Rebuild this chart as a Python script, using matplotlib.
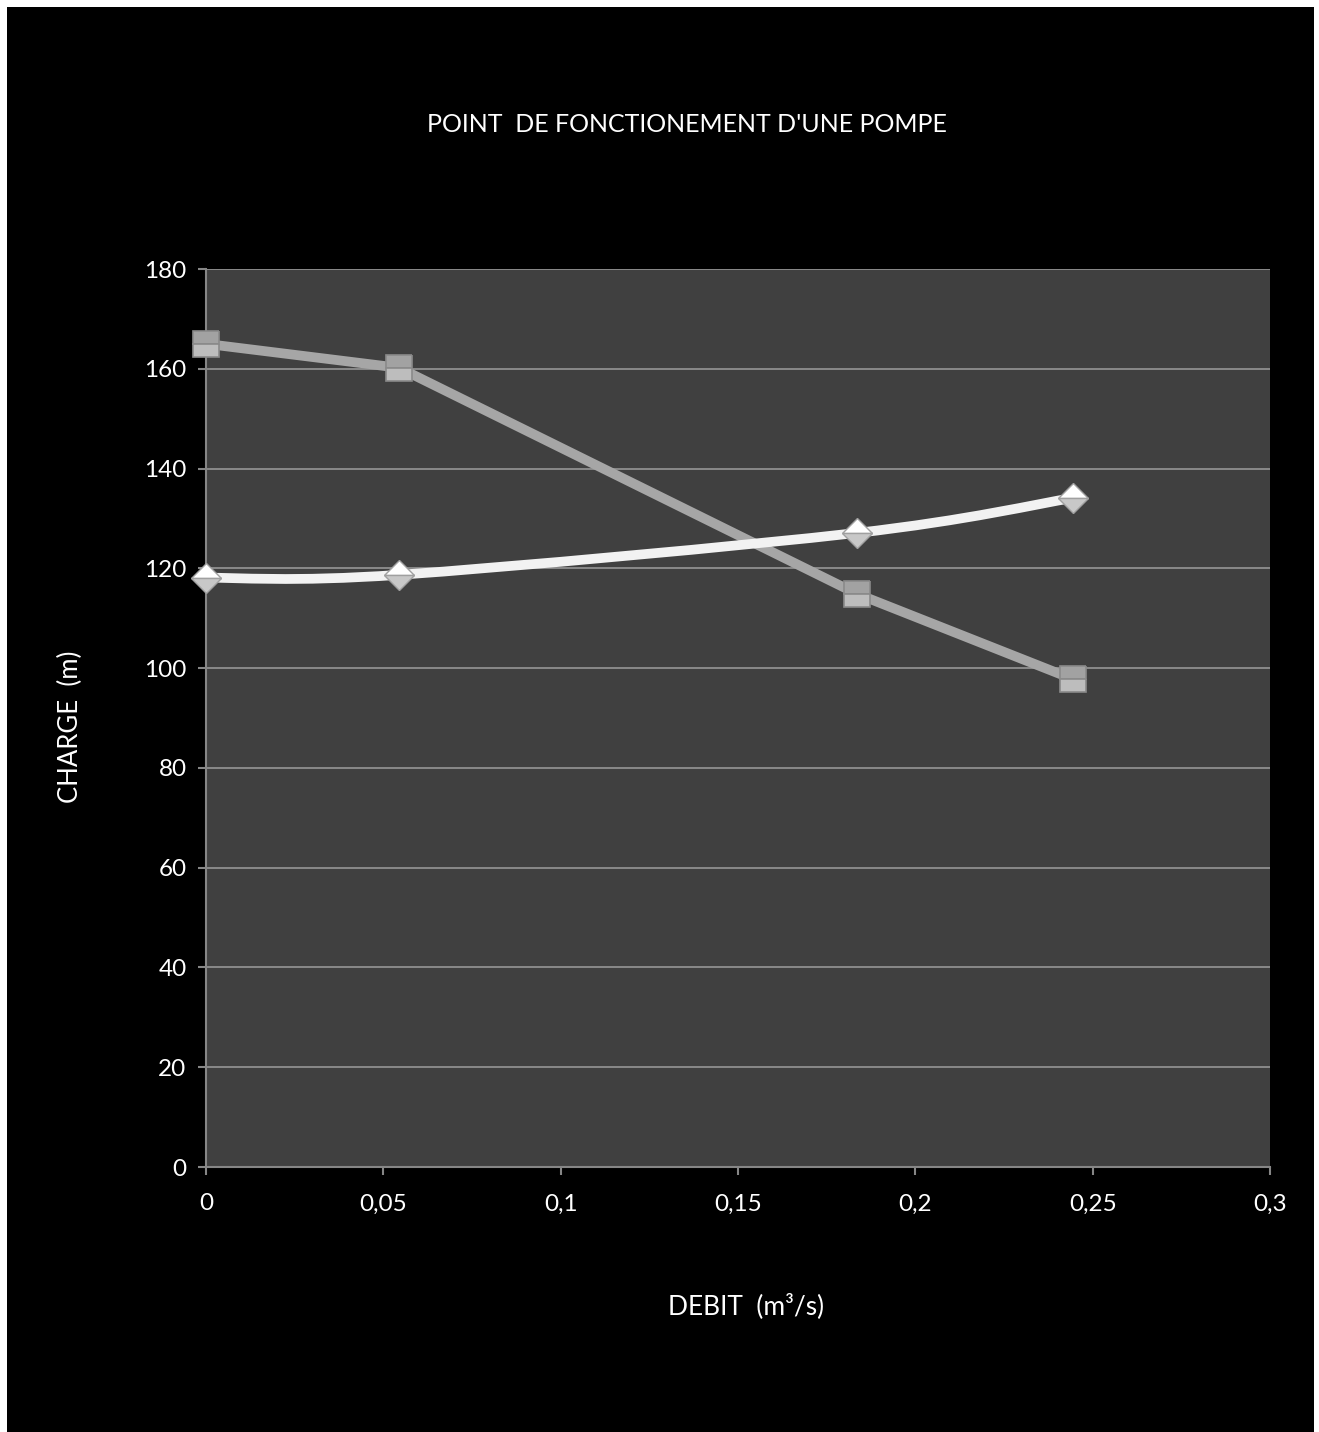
import matplotlib
matplotlib.use("Agg")
import matplotlib.pyplot as plt
from matplotlib.patches import Rectangle, PathPatch
from matplotlib.path import Path
import numpy as np

plt.rcParams['font.family'] = ['Lato', 'DejaVu Sans']

title = "POINT  DE FONCTIONEMENT D'UNE POMPE"
xlabel = "DEBIT  (m³/s)"
ylabel = "CHARGE  (m)"

debit = [0.0, 0.0544, 0.1835, 0.2444]
pump_head = [165.0, 160.2, 114.9, 97.8]      # squares (pump curve)
system_head = [118.1, 118.7, 127.1, 134.1]   # diamonds (system curve)

xticks = [0, 0.05, 0.1, 0.15, 0.2, 0.25, 0.3]
xticklabels = ["0", "0,05", "0,1", "0,15", "0,2", "0,25", "0,3"]
yticks = [0, 20, 40, 60, 80, 100, 120, 140, 160, 180]

W, H = 1319, 1432
fig = plt.figure(figsize=(W / 100, H / 100), dpi=100, facecolor='white')
fig.patches.append(Rectangle((7 / W, 0), (1314 - 7) / W, (H - 7) / H,
                             transform=fig.transFigure, facecolor='black',
                             edgecolor='none', zorder=-10))

ax = fig.add_axes([206 / W, 265 / H, 1064 / W, 898 / H])
ax.set_facecolor('#404040')
ax.set_xlim(0, 0.3)
ax.set_ylim(0, 180)


def smooth_path(xs, ys):
    pts = list(zip(xs, ys))
    n = len(pts)
    verts = [pts[0]]
    codes = [Path.MOVETO]
    for i in range(n - 1):
        p0 = pts[i - 1] if i > 0 else pts[i]
        p1 = pts[i]
        p2 = pts[i + 1]
        p3 = pts[i + 2] if i + 2 < n else pts[i + 1]
        c1 = (p1[0] + (p2[0] - p0[0]) / 6, p1[1] + (p2[1] - p0[1]) / 6)
        c2 = (p2[0] - (p3[0] - p1[0]) / 6, p2[1] - (p3[1] - p1[1]) / 6)
        verts += [c1, c2, p2]
        codes += [Path.CURVE4] * 3
    return Path(verts, codes)


ax.plot(debit, pump_head, color='#a6a6a6', lw=7, solid_joinstyle='round',
        solid_capstyle='round', zorder=3)
ax.add_patch(PathPatch(smooth_path(debit, system_head), facecolor='none',
                       edgecolor='#f2f2f2', lw=7, capstyle='round', zorder=3))

ax.plot(debit, pump_head, linestyle='none', marker='s', markersize=19,
        markerfacecolor='#a2a2a2', markerfacecoloralt='#bdbdbd', fillstyle='top',
        markeredgecolor='#8a8a8a', markeredgewidth=1.2, zorder=5, clip_on=False)
ax.plot(debit, system_head, linestyle='none', marker='D', markersize=15,
        markerfacecolor='#ffffff', markerfacecoloralt='#c8c8c8', fillstyle='top',
        markeredgecolor='#a0a0a0', markeredgewidth=1.0, zorder=5, clip_on=False)

ax.set_xticks(xticks)
ax.set_xticklabels(xticklabels)
ax.set_yticks(yticks)
ax.yaxis.grid(True, color='#8a8a8a', lw=1.4)
ax.set_axisbelow(True)
for s in ['top', 'right']:
    ax.spines[s].set_visible(False)
for s in ['left', 'bottom']:
    ax.spines[s].set_color('#868686')
    ax.spines[s].set_linewidth(1.5)
ax.tick_params(colors='#868686', labelcolor='white', labelsize=17.5,
               length=6, width=1.5, direction='out')
ax.tick_params(axis='y', pad=8)
ax.tick_params(axis='x', pad=13)

fig.text(687 / W, 1 - 125 / H, title, color='white', fontsize=18,
         ha='center', va='center')
fig.text(746 / W, 1 - 1306 / H, xlabel, color='white', fontsize=19,
         ha='center', va='center')
fig.text(70 / W, 1 - 727 / H, ylabel, color='white', fontsize=18.5,
         ha='center', va='center', rotation=90)

fig.savefig('out.png', dpi=100, facecolor=fig.get_facecolor())
